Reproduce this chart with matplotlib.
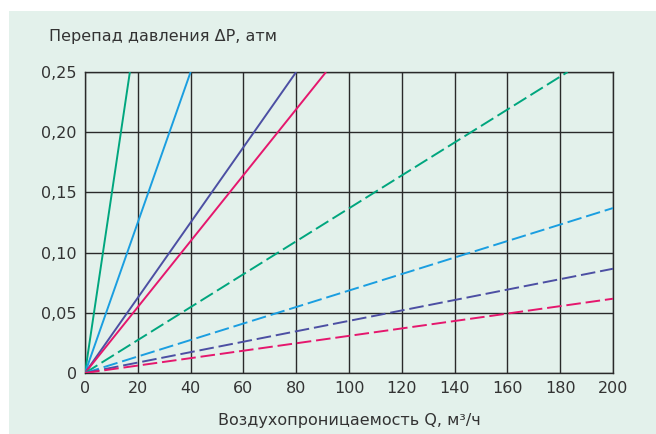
import matplotlib.pyplot as plt
import matplotlib.ticker as ticker
from matplotlib.patches import Rectangle

# ── Данные ──────────────────────────────────────────────────────────────────
# прямые из начала координат: конечная точка (Q, ΔP)
solid_end_q  = [17, 40, 80, 91.3]
solid_end_dp = [0.25, 0.25, 0.25, 0.25]
dashed_end_q  = [182.8, 200, 200, 200]
dashed_end_dp = [0.25, 0.137, 0.0866, 0.0617]
colors = ["#00a67e", "#1a9ee0", "#4c4fa3", "#e5176d"]

x_ticks = [0, 20, 40, 60, 80, 100, 120, 140, 160, 180, 200]
y_ticks = [0, 0.05, 0.10, 0.15, 0.20, 0.25]
ylabel = "Перепад давления ΔP, атм"
xlabel = "Воздухопроницаемость Q, м³/ч"
# ────────────────────────────────────────────────────────────────────────────

bg = "#e3f1eb"
fig = plt.figure(figsize=(6.56, 4.34), dpi=100)
fig.patch.set_facecolor("white")
fig.patches.append(Rectangle((9 / 656, 0), 1 - 9 / 656, 1 - 11 / 434,
                             transform=fig.transFigure, facecolor=bg,
                             edgecolor="none", zorder=-10))

ax = fig.add_axes([85 / 656, 61 / 434, 528 / 656, 301 / 434])
ax.set_zorder(1)
ax.set_facecolor(bg)

for q, dp, c in zip(solid_end_q, solid_end_dp, colors):
    ax.plot([0, q], [0, dp], color=c, lw=1.4, solid_capstyle="butt", zorder=3)
for q, dp, c in zip(dashed_end_q, dashed_end_dp, colors):
    ax.plot([0, q], [0, dp], color=c, lw=1.4, dashes=(7.5, 2.5), zorder=3)

ax.set_xlim(0, 200)
ax.set_ylim(0, 0.25)
ax.set_xticks(x_ticks)
ax.set_yticks(y_ticks)
ax.yaxis.set_major_formatter(ticker.FuncFormatter(
    lambda v, _: "0" if v == 0 else f"{v:.2f}".replace(".", ",")))
ax.tick_params(length=0, labelsize=11.5, colors="#333333", pad=6)
ax.grid(True, color="#2a2a2a", lw=1)
ax.set_axisbelow(True)
for s in ax.spines.values():
    s.set_color("#2a2a2a")
    s.set_linewidth(1)

fig.text(49 / 656, 1 - 37 / 434, ylabel, fontsize=11.5, color="#333333",
         ha="left", va="center")
fig.text(349 / 656, 1 - 421 / 434, xlabel, fontsize=11.5, color="#333333",
         ha="center", va="center")

fig.savefig("out.png", dpi=100, facecolor=fig.get_facecolor())
